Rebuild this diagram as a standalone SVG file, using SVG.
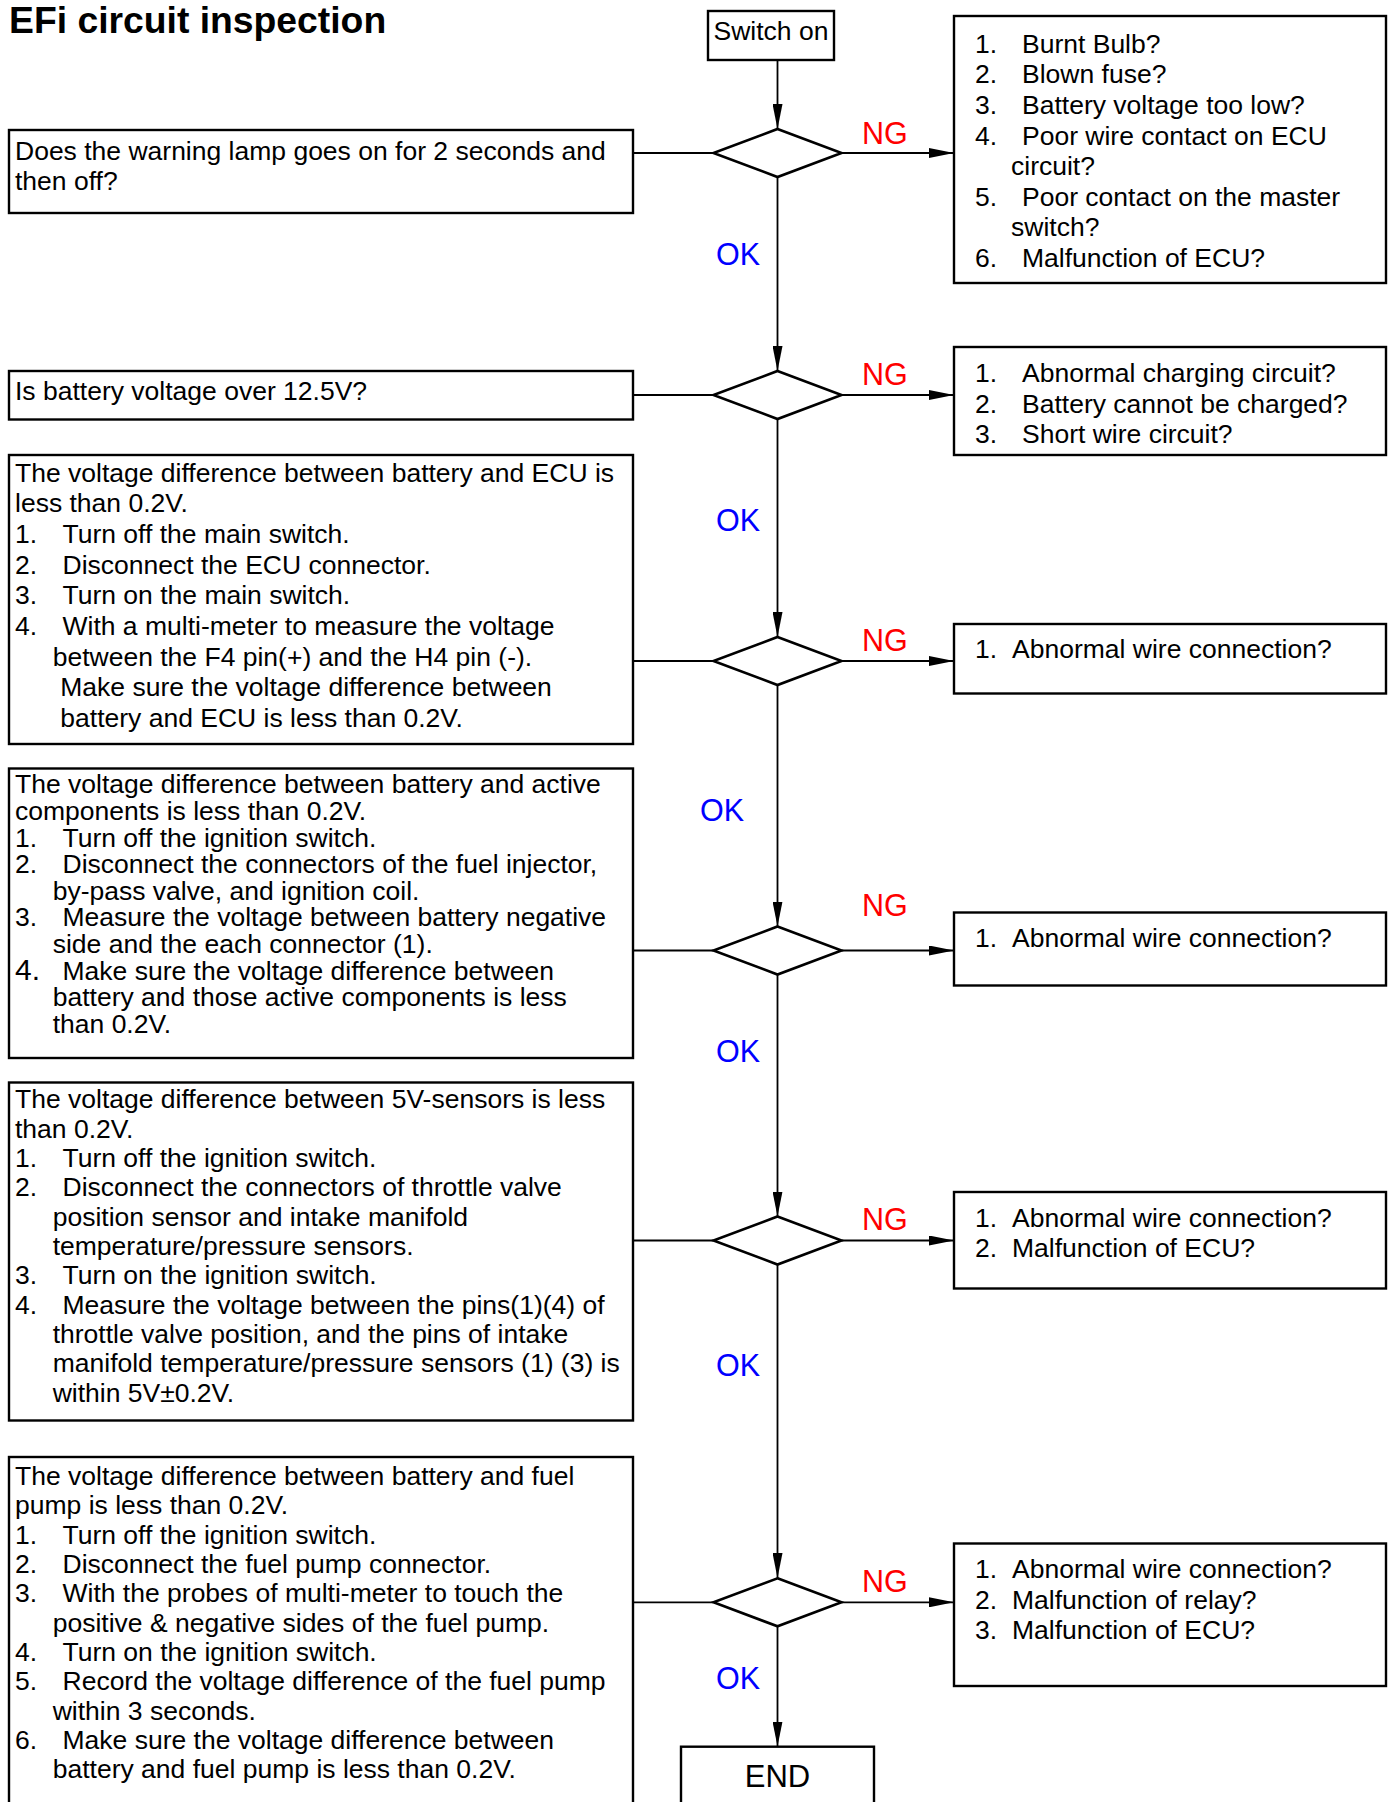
<svg xmlns="http://www.w3.org/2000/svg" width="1391" height="1802" viewBox="0 0 1391 1802">
<defs>
<marker id="ah" markerUnits="userSpaceOnUse" markerWidth="26" markerHeight="10" refX="25" refY="5" orient="auto">
<path d="M0,0 L25,5 L0,10 z" fill="#000"/>
</marker>
<style>
.box{fill:#fff;stroke:#000;stroke-width:2.4}
.dia{fill:#fff;stroke:#000;stroke-width:2.6}
.ln{stroke:#000;stroke-width:1.8;fill:none}
.t{font-family:"Liberation Sans",Arial,sans-serif;font-size:26.5px;fill:#000}
.ttl{font-family:"Liberation Sans",Arial,sans-serif;font-size:37.3px;font-weight:bold;fill:#000}
.ng{font-family:"Liberation Sans",Arial,sans-serif;font-size:30.5px;fill:#f00}
.ok{font-family:"Liberation Sans",Arial,sans-serif;font-size:30.5px;fill:#00f}
.end{font-family:"Liberation Sans",Arial,sans-serif;font-size:31px;fill:#000}
</style>
</defs>
<rect width="1391" height="1802" fill="#fff"/>
<text class="ttl" x="9" y="33">EFi circuit inspection</text>

<g id="connectors">
<line class="ln" x1="777.5" y1="60" x2="777.5" y2="129" marker-end="url(#ah)"/>
<line class="ln" x1="777.5" y1="177" x2="777.5" y2="371" marker-end="url(#ah)"/>
<line class="ln" x1="777.5" y1="419" x2="777.5" y2="637" marker-end="url(#ah)"/>
<line class="ln" x1="777.5" y1="685" x2="777.5" y2="926.5" marker-end="url(#ah)"/>
<line class="ln" x1="777.5" y1="974.5" x2="777.5" y2="1216.5" marker-end="url(#ah)"/>
<line class="ln" x1="777.5" y1="1264.5" x2="777.5" y2="1578" marker-end="url(#ah)"/>
<line class="ln" x1="777.5" y1="1626" x2="777.5" y2="1746.5" marker-end="url(#ah)"/>
<line class="ln" x1="633" y1="153" x2="713.5" y2="153"/>
<line class="ln" x1="633" y1="395" x2="713.5" y2="395"/>
<line class="ln" x1="633" y1="661" x2="713.5" y2="661"/>
<line class="ln" x1="633" y1="950.5" x2="713.5" y2="950.5"/>
<line class="ln" x1="633" y1="1240.5" x2="713.5" y2="1240.5"/>
<line class="ln" x1="633" y1="1602.3" x2="713.5" y2="1602.3"/>
<line class="ln" x1="841.5" y1="153" x2="954" y2="153" marker-end="url(#ah)"/>
<line class="ln" x1="841.5" y1="395" x2="954" y2="395" marker-end="url(#ah)"/>
<line class="ln" x1="841.5" y1="661" x2="954" y2="661" marker-end="url(#ah)"/>
<line class="ln" x1="841.5" y1="950.5" x2="954" y2="950.5" marker-end="url(#ah)"/>
<line class="ln" x1="841.5" y1="1240.5" x2="954" y2="1240.5" marker-end="url(#ah)"/>
<line class="ln" x1="841.5" y1="1602.3" x2="954" y2="1602.3" marker-end="url(#ah)"/>
<text class="ng" x="862" y="144">NG</text>
<text class="ng" x="862" y="385">NG</text>
<text class="ng" x="862" y="651">NG</text>
<text class="ng" x="862" y="916">NG</text>
<text class="ng" x="862" y="1230">NG</text>
<text class="ng" x="862" y="1592">NG</text>
<text class="ok" x="716" y="265">OK</text>
<text class="ok" x="716" y="531">OK</text>
<text class="ok" x="700" y="821">OK</text>
<text class="ok" x="716" y="1062">OK</text>
<text class="ok" x="716" y="1376">OK</text>
<text class="ok" x="716" y="1689">OK</text>
</g>

<g id="start">
<rect class="box" x="708" y="11" width="126" height="49"/>
<text class="t" x="771" y="40" text-anchor="middle">Switch on</text>
</g>

<g id="d1"><polygon class="dia" points="777.5,129 841.5,153 777.5,177 713.5,153"/></g>
<g id="d2"><polygon class="dia" points="777.5,371 841.5,395 777.5,419 713.5,395"/></g>
<g id="d3"><polygon class="dia" points="777.5,637 841.5,661 777.5,685 713.5,661"/></g>
<g id="d4"><polygon class="dia" points="777.5,926.5 841.5,950.5 777.5,974.5 713.5,950.5"/></g>
<g id="d5"><polygon class="dia" points="777.5,1216.5 841.5,1240.5 777.5,1264.5 713.5,1240.5"/></g>
<g id="d6"><polygon class="dia" points="777.5,1578.3 841.5,1602.3 777.5,1626.3 713.5,1602.3"/></g>

<g id="end">
<rect class="box" x="681" y="1746.7" width="193" height="70"/>
<text class="end" x="777.5" y="1787.3" text-anchor="middle">END</text>
</g>

<g id="q1">
<rect class="box" x="9" y="130" width="624" height="83"/>
<text class="t" x="15" y="159.5">Does the warning lamp goes on for 2 seconds and</text>
<text class="t" x="15" y="190.3">then off?</text>
</g>

<g id="q2">
<rect class="box" x="9" y="371" width="624" height="48.5"/>
<text class="t" x="15" y="400">Is battery voltage over 12.5V?</text>
</g>

<g id="q3">
<rect class="box" x="9" y="455" width="624" height="289"/>
<text class="t" x="15" y="481.7">The voltage difference between battery and ECU is</text>
<text class="t" x="15" y="512.3">less than 0.2V.</text>
<text class="t" x="15" y="543">1.</text><text class="t" x="62.5" y="543">Turn off the main switch.</text>
<text class="t" x="15" y="573.6">2.</text><text class="t" x="62.5" y="573.6">Disconnect the ECU connector.</text>
<text class="t" x="15" y="604.3">3.</text><text class="t" x="62.5" y="604.3">Turn on the main switch.</text>
<text class="t" x="15" y="634.9">4.</text><text class="t" x="62.5" y="634.9">With a multi-meter to measure the voltage</text>
<text class="t" x="52.7" y="665.6">between the F4 pin(+) and the H4 pin (-).</text>
<text class="t" x="60.3" y="696.2">Make sure the voltage difference between</text>
<text class="t" x="60.3" y="726.9">battery and ECU is less than 0.2V.</text>
</g>

<g id="q4">
<rect class="box" x="9" y="768.5" width="624" height="289.5"/>
<text class="t" x="15" y="793.3">The voltage difference between battery and active</text>
<text class="t" x="15" y="819.9">components is less than 0.2V.</text>
<text class="t" x="15" y="846.5">1.</text><text class="t" x="62.5" y="846.5">Turn off the ignition switch.</text>
<text class="t" x="15" y="873.1">2.</text><text class="t" x="62.5" y="873.1">Disconnect the connectors of the fuel injector,</text>
<text class="t" x="52.7" y="899.7">by-pass valve, and ignition coil.</text>
<text class="t" x="15" y="926.3">3.</text><text class="t" x="62.5" y="926.3">Measure the voltage between battery negative</text>
<text class="t" x="52.7" y="952.9">side and the each connector (1).</text>
<text class="t" x="15" y="979.5" style="font-size:30px">4.</text><text class="t" x="62.5" y="979.5">Make sure the voltage difference between</text>
<text class="t" x="52.7" y="1006.1">battery and those active components is less</text>
<text class="t" x="52.7" y="1032.7">than 0.2V.</text>
</g>

<g id="q5">
<rect class="box" x="9" y="1082.5" width="624" height="338"/>
<text class="t" x="15" y="1108.3">The voltage difference between 5V-sensors is less</text>
<text class="t" x="15" y="1137.6">than 0.2V.</text>
<text class="t" x="15" y="1167">1.</text><text class="t" x="62.5" y="1167">Turn off the ignition switch.</text>
<text class="t" x="15" y="1196.3">2.</text><text class="t" x="62.5" y="1196.3">Disconnect the connectors of throttle valve</text>
<text class="t" x="52.7" y="1225.6">position sensor and intake manifold</text>
<text class="t" x="52.7" y="1255">temperature/pressure sensors.</text>
<text class="t" x="15" y="1284.3">3.</text><text class="t" x="62.5" y="1284.3">Turn on the ignition switch.</text>
<text class="t" x="15" y="1313.6">4.</text><text class="t" x="62.5" y="1313.6">Measure the voltage between the pins(1)(4) of</text>
<text class="t" x="52.7" y="1343">throttle valve position, and the pins of intake</text>
<text class="t" x="52.7" y="1372.3">manifold temperature/pressure sensors (1) (3) is</text>
<text class="t" x="52.7" y="1401.6">within 5V±0.2V.</text>
</g>

<g id="q6">
<rect class="box" x="9" y="1457" width="624" height="360"/>
<text class="t" x="15" y="1485">The voltage difference between battery and fuel</text>
<text class="t" x="15" y="1514.3">pump is less than 0.2V.</text>
<text class="t" x="15" y="1543.7">1.</text><text class="t" x="62.5" y="1543.7">Turn off the ignition switch.</text>
<text class="t" x="15" y="1573">2.</text><text class="t" x="62.5" y="1573">Disconnect the fuel pump connector.</text>
<text class="t" x="15" y="1602.3">3.</text><text class="t" x="62.5" y="1602.3">With the probes of multi-meter to touch the</text>
<text class="t" x="52.7" y="1631.7">positive &amp; negative sides of the fuel pump.</text>
<text class="t" x="15" y="1661">4.</text><text class="t" x="62.5" y="1661">Turn on the ignition switch.</text>
<text class="t" x="15" y="1690.3">5.</text><text class="t" x="62.5" y="1690.3">Record the voltage difference of the fuel pump</text>
<text class="t" x="52.7" y="1719.6">within 3 seconds.</text>
<text class="t" x="15" y="1749">6.</text><text class="t" x="62.5" y="1749">Make sure the voltage difference between</text>
<text class="t" x="52.7" y="1778.3">battery and fuel pump is less than 0.2V.</text>
</g>

<g id="r1">
<rect class="box" x="954" y="16" width="432" height="267"/>
<text class="t" x="975" y="52.7">1.</text><text class="t" x="1022" y="52.7">Burnt Bulb?</text>
<text class="t" x="975" y="83.3">2.</text><text class="t" x="1022" y="83.3">Blown fuse?</text>
<text class="t" x="975" y="114">3.</text><text class="t" x="1022" y="114">Battery voltage too low?</text>
<text class="t" x="975" y="144.6">4.</text><text class="t" x="1022" y="144.6">Poor wire contact on ECU</text>
<text class="t" x="1011" y="175.2">circuit?</text>
<text class="t" x="975" y="205.8">5.</text><text class="t" x="1022" y="205.8">Poor contact on the master</text>
<text class="t" x="1011" y="236.4">switch?</text>
<text class="t" x="975" y="267">6.</text><text class="t" x="1022" y="267">Malfunction of ECU?</text>
</g>

<g id="r2">
<rect class="box" x="954" y="347" width="432" height="108"/>
<text class="t" x="975" y="381.7">1.</text><text class="t" x="1022" y="381.7">Abnormal charging circuit?</text>
<text class="t" x="975" y="412.5">2.</text><text class="t" x="1022" y="412.5">Battery cannot be charged?</text>
<text class="t" x="975" y="443.3">3.</text><text class="t" x="1022" y="443.3">Short wire circuit?</text>
</g>

<g id="r3">
<rect class="box" x="954" y="624" width="432" height="69.5"/>
<text class="t" x="975" y="658.3">1.</text><text class="t" x="1012" y="658.3">Abnormal wire connection?</text>
</g>

<g id="r4">
<rect class="box" x="954" y="912.5" width="432" height="73"/>
<text class="t" x="975" y="946.7">1.</text><text class="t" x="1012" y="946.7">Abnormal wire connection?</text>
</g>

<g id="r5">
<rect class="box" x="954" y="1192" width="432" height="96.5"/>
<text class="t" x="975" y="1227.3">1.</text><text class="t" x="1012" y="1227.3">Abnormal wire connection?</text>
<text class="t" x="975" y="1257.3">2.</text><text class="t" x="1012" y="1257.3">Malfunction of ECU?</text>
</g>

<g id="r6">
<rect class="box" x="954" y="1543.5" width="432" height="142.5"/>
<text class="t" x="975" y="1578.3">1.</text><text class="t" x="1012" y="1578.3">Abnormal wire connection?</text>
<text class="t" x="975" y="1609.3">2.</text><text class="t" x="1012" y="1609.3">Malfunction of relay?</text>
<text class="t" x="975" y="1639.3">3.</text><text class="t" x="1012" y="1639.3">Malfunction of ECU?</text>
</g>
</svg>
